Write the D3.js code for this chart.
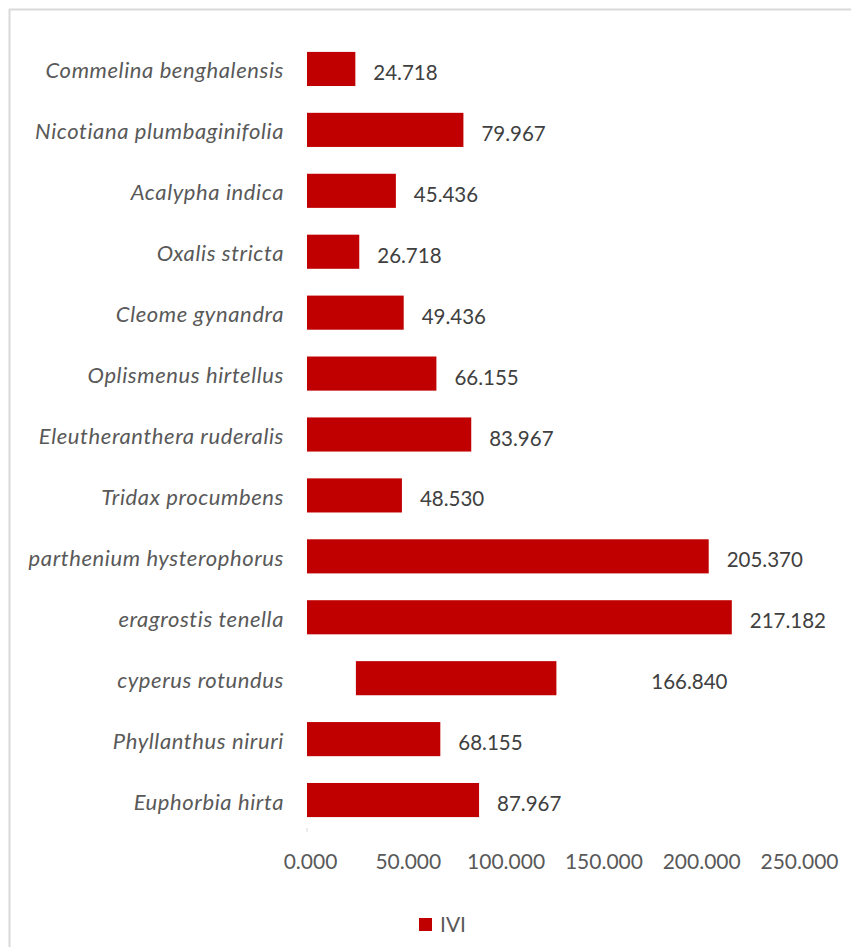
<!DOCTYPE html>
<html>
<head>
<meta charset="utf-8">
<script src="https://cdn.jsdelivr.net/npm/d3@7/dist/d3.min.js"></script>
<style>
  html, body { margin: 0; padding: 0; background: #fff; }
  svg { display: block; }
</style>
</head>
<body>
<svg id="chart" width="851" height="947"></svg>
<script>
// ---- data ----
const species = [
  "Commelina benghalensis",
  "Nicotiana plumbaginifolia",
  "Acalypha indica",
  "Oxalis stricta",
  "Cleome gynandra",
  "Oplismenus hirtellus",
  "Eleutheranthera ruderalis",
  "Tridax procumbens",
  "parthenium hysterophorus",
  "eragrostis tenella",
  "cyperus rotundus",
  "Phyllanthus niruri",
  "Euphorbia hirta"
];
const ivi = [24.718, 79.967, 45.436, 26.718, 49.436, 66.155, 83.967, 48.530, 205.370, 217.182, 166.840, 68.155, 87.967];
// extent of each bar as drawn in the picture (value units)
const barStart = [0, 0, 0, 0, 0, 0, 0, 0, 0, 0, 25, 0, 0];
const barEnd   = [24.718, 79.967, 45.436, 26.718, 49.436, 66.155, 83.967, 48.530, 205.370, 217.182, 127.5, 68.155, 87.967];
const tickValues = [0, 50, 100, 150, 200, 250];
const seriesName = "IVI";

// ---- layout ----
const svg = d3.select("#chart");
const W = 851, H = 947;
const barColor = "#C00000";
const font = "Lato, 'Open Sans', sans-serif";

// frame (top and left edges visible)
svg.append("line").attr("x1", 9).attr("x2", W).attr("y1", 9.5).attr("y2", 9.5)
  .attr("stroke", "#d9d9d9").attr("stroke-width", 2);
svg.append("line").attr("x1", 9.5).attr("x2", 9.5).attr("y1", 9).attr("y2", H)
  .attr("stroke", "#d9d9d9").attr("stroke-width", 2);

const x = d3.scaleLinear().domain([0, 250]).range([307, 796]);
const y = d3.scaleBand().domain(species).range([38.5, 830.5]).paddingInner(0.44).paddingOuter(0.22);

const data = species.map((s, i) => ({ s, v: ivi[i], a: barStart[i], b: barEnd[i] }));

// bars
svg.append("g").selectAll("rect").data(data).join("rect")
  .attr("x", d => x(d.a))
  .attr("y", d => y(d.s))
  .attr("width", d => x(d.b) - x(d.a))
  .attr("height", y.bandwidth())
  .attr("fill", barColor);

// category labels
svg.append("g").selectAll("text").data(data).join("text")
  .attr("x", 284)
  .attr("y", d => y(d.s) + y.bandwidth() / 2 + 1)
  .attr("text-anchor", "end")
  .attr("dominant-baseline", "central")
  .attr("font-family", font)
  .attr("font-style", "italic")
  .attr("font-size", 22)
  .attr("letter-spacing", 0.6)
  .attr("fill", "#595959")
  .text(d => d.s);

// value labels
svg.append("g").selectAll("text").data(data).join("text")
  .attr("x", d => x(d.v) + 18)
  .attr("y", d => y(d.s) + y.bandwidth() / 2 + 3)
  .attr("dominant-baseline", "central")
  .attr("font-family", font)
  .attr("font-size", 20.5)
  .attr("fill", "#404040")
  .text(d => d3.format(".3f")(d.v));

// faint axis stub
svg.append("line").attr("x1", x(0)).attr("x2", x(0)).attr("y1", 828).attr("y2", 832)
  .attr("stroke", "#d9d9d9").attr("stroke-width", 1);

// x axis
const ax = svg.append("g").attr("transform", "translate(3,830)")
  .call(d3.axisBottom(x).tickValues(tickValues).tickFormat(d3.format(".3f")).tickSize(0).tickPadding(24));
ax.select(".domain").remove();
ax.selectAll("text")
  .attr("font-family", font)
  .attr("font-size", 21)
  .attr("fill", "#595959");

// legend
const lg = svg.append("g").attr("transform", "translate(419,918)");
lg.append("rect").attr("width", 13).attr("height", 13).attr("fill", barColor);
lg.append("text").attr("x", 21).attr("y", 5).attr("dominant-baseline", "central")
  .attr("font-family", font).attr("font-size", 21).attr("fill", "#595959").text(seriesName);
</script>
</body>
</html>
